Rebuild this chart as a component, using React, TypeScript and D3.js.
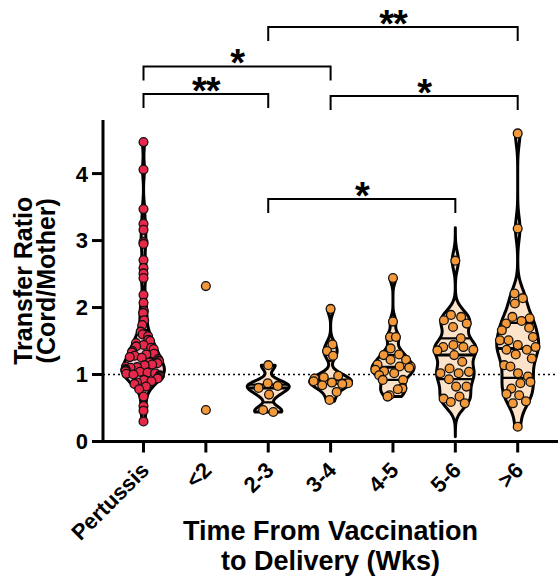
import React, { useEffect, useRef } from 'react';
import * as d3 from 'd3';

// group labels on the x axis
const categories = ['Pertussis', '<2', '2-3', '3-4', '4-5', '5-6', '>6'];

// transfer ratios, one array per group
const pertussis = [
  4.47, 4.06, 3.47, 3.25, 3.16, 2.98, 2.95, 2.71, 2.59, 2.51, 2.44, 2.19, 2.07, 1.95, 1.92,
  1.81, 1.74, 1.64, 1.60, 1.57, 1.52, 1.50, 1.47, 1.44, 1.42, 1.40, 1.38, 1.35, 1.33, 1.31,
  1.30, 1.28, 1.26, 1.25, 1.23, 1.21, 1.20, 1.18, 1.17, 1.15, 1.14, 1.12, 1.11, 1.10, 1.08,
  1.07, 1.06, 1.05, 1.04, 1.03, 1.02, 1.01, 1.00, 0.99, 0.98, 0.97, 0.95, 0.94, 0.92, 0.90,
  0.88, 0.86, 0.82, 0.78, 0.67, 0.53, 0.46, 0.30
];
const wkLt2 = [2.32, 0.47];
const wk23 = [1.14, 0.87, 0.83, 0.80, 0.70, 0.47, 0.44];
const wk34 = [1.98, 1.45, 1.35, 1.28, 0.98, 0.96, 0.94, 0.90, 0.88, 0.87, 0.86, 0.84, 0.74, 0.62];
const wk45 = [
  2.44, 1.79, 1.56, 1.56, 1.39, 1.30, 1.29, 1.22, 1.22, 1.15, 1.12, 1.12, 1.10, 1.07, 1.05,
  1.02, 0.99, 0.92, 0.92, 0.80, 0.79, 0.78, 0.69, 0.67
];
const wk56 = [
  2.70, 1.89, 1.86, 1.81, 1.76, 1.71, 1.54, 1.44, 1.41, 1.41, 1.37, 1.36, 1.29, 1.19, 1.09,
  1.04, 1.02, 1.02, 0.93, 0.82, 0.82, 0.67, 0.64, 0.59, 0.57
];
const wkGt6 = [
  4.60, 3.18, 2.21, 2.14, 2.06, 1.86, 1.84, 1.80, 1.76, 1.70, 1.66, 1.56, 1.51, 1.51, 1.44,
  1.41, 1.37, 1.37, 1.30, 1.24, 1.14, 1.12, 1.02, 0.97, 0.89, 0.87, 0.79, 0.71, 0.69, 0.60,
  0.57, 0.22
];
const groupValues = [pertussis, wkLt2, wk23, wk34, wk45, wk56, wkGt6];

// value range each violin covers (null = too few points for a violin)
const violinExtents: ([number, number] | null)[] = [
  [0.30, 4.47], null, [0.44, 1.14], [0.60, 1.98], [0.67, 2.44], [0.07, 3.19], [0.22, 4.60]
];

const yTicks = [0, 1, 2, 3, 4];
const yMax = 4.8;
const refLine = 1;

// significance brackets, level in data units
const comparisons = [
  { from: '2-3', to: '>6', level: 6.19, label: '**' },
  { from: 'Pertussis', to: '3-4', level: 5.6, label: '*' },
  { from: 'Pertussis', to: '2-3', level: 5.19, label: '**' },
  { from: '3-4', to: '>6', level: 5.16, label: '*' },
  { from: '2-3', to: '5-6', level: 3.62, label: '*' }
];

const WIDTH = 560;
const HEIGHT = 586;
const FONT = '"Liberation Sans", Arial, Helvetica, sans-serif';

function kde(values: number[], bw: number, v: number) {
  let s = 0;
  for (const x of values) {
    const u = (v - x) / bw;
    s += Math.exp(-0.5 * u * u);
  }
  return s / (values.length * bw * Math.sqrt(2 * Math.PI));
}

const App: React.FC = () => {
  const svgRef = useRef<SVGSVGElement>(null);

  useEffect(() => {
    if (!svgRef.current) return;
    const svg = d3.select(svgRef.current);
    svg.selectAll('*').remove();

    const axisLeftX = 103;
    const axisRightX = 558;

    const x = d3.scalePoint<string>().domain(categories).range([143.5, 517.7]);
    const y = d3.scaleLinear().domain([0, yMax]).range([441.5, 120]);

    const g = svg.append('g');

    // dotted reference line at ratio = 1
    g.append('line')
      .attr('x1', axisLeftX)
      .attr('x2', axisRightX)
      .attr('y1', y(refLine))
      .attr('y2', y(refLine))
      .attr('stroke', '#000')
      .attr('stroke-width', 1.6)
      .attr('stroke-dasharray', '2,3');

    const maxHalf = 21;

    categories.forEach((cat, i) => {
      const vals = groupValues[i];
      const cx = x(cat) as number;
      const isRed = i === 0;
      const dotFill = isRed ? '#E8284B' : '#F4993A';
      const violinFill = isRed ? '#F6C4CE' : '#FCE3CA';
      const ext = violinExtents[i];

      let halfWidth = (_v: number) => 0;

      if (ext) {
        const sorted = [...vals].sort(d3.ascending);
        const sd = d3.deviation(sorted) || 0.2;
        const iqr = (d3.quantile(sorted, 0.75)! - d3.quantile(sorted, 0.25)!) / 1.34;
        const bw = 0.62 * 0.9 * Math.min(sd, iqr || sd) * Math.pow(sorted.length, -0.2);
        const steps = d3.range(0, 121).map(k => ext[0] + (ext[1] - ext[0]) * k / 120);
        const dens = steps.map(v => kde(sorted, bw, v));
        const dMax = d3.max(dens) as number;
        const w = d3.scaleLinear().domain([0, dMax]).range([0, maxHalf]);
        halfWidth = (v: number) => {
          if (v < ext[0] || v > ext[1]) return 0;
          return w(kde(sorted, bw, v));
        };

        const area = d3.area<number>()
          .y(d => y(d))
          .x0(d => cx - halfWidth(d))
          .x1(d => cx + halfWidth(d))
          .curve(d3.curveBasis);

        g.append('path')
          .datum(steps)
          .attr('d', area)
          .attr('fill', violinFill)
          .attr('stroke', '#000')
          .attr('stroke-width', 3)
          .attr('stroke-linejoin', 'round');

        // median and quartiles
        [0.25, 0.5, 0.75].forEach(q => {
          const v = d3.quantile(sorted, q) as number;
          const hw = halfWidth(v);
          g.append('line')
            .attr('x1', cx - hw)
            .attr('x2', cx + hw)
            .attr('y1', y(v))
            .attr('y2', y(v))
            .attr('stroke', '#000')
            .attr('stroke-width', q === 0.5 ? 3 : 2.2);
        });
      }

      // spread the dots sideways inside the violin
      const nodes = vals.map(v => ({ v, x: cx, y: y(v) }));
      const sim = d3.forceSimulation(nodes as any)
        .force('x', d3.forceX(cx).strength(0.015))
        .force('y', d3.forceY((d: any) => y(d.v)).strength(1))
        .force('collide', d3.forceCollide(isRed ? 3.8 : 5.2))
        .stop();
      sim.tick(300);
      nodes.forEach(n => {
        const lim = ext ? Math.max(halfWidth(n.v) - 3, 0) : 0;
        n.x = Math.max(cx - lim, Math.min(cx + lim, n.x));
        n.y = y(n.v);
      });

      g.append('g')
        .selectAll('circle')
        .data(nodes)
        .enter()
        .append('circle')
        .attr('cx', d => d.x)
        .attr('cy', d => d.y)
        .attr('r', 4.4)
        .attr('fill', dotFill)
        .attr('stroke', '#111')
        .attr('stroke-width', 1.3);
    });

    // y axis
    const yAxisG = g.append('g').attr('font-family', FONT);
    yAxisG.append('line')
      .attr('x1', axisLeftX)
      .attr('x2', axisLeftX)
      .attr('y1', y(yMax))
      .attr('y2', y(0) + 1.5)
      .attr('stroke', '#000')
      .attr('stroke-width', 3);
    yTicks.forEach(t => {
      yAxisG.append('line')
        .attr('x1', axisLeftX - 11)
        .attr('x2', axisLeftX)
        .attr('y1', y(t))
        .attr('y2', y(t))
        .attr('stroke', '#000')
        .attr('stroke-width', 3);
      yAxisG.append('text')
        .attr('x', axisLeftX - 15)
        .attr('y', y(t))
        .attr('dy', '0.36em')
        .attr('text-anchor', 'end')
        .attr('font-size', 22)
        .attr('font-weight', 'bold')
        .text(t);
    });

    // x axis
    const xAxisG = g.append('g').attr('font-family', FONT);
    xAxisG.append('line')
      .attr('x1', axisLeftX - 1.5)
      .attr('x2', axisRightX)
      .attr('y1', y(0))
      .attr('y2', y(0))
      .attr('stroke', '#000')
      .attr('stroke-width', 3);
    categories.forEach(cat => {
      const cx = x(cat) as number;
      xAxisG.append('line')
        .attr('x1', cx)
        .attr('x2', cx)
        .attr('y1', y(0))
        .attr('y2', y(0) + 11)
        .attr('stroke', '#000')
        .attr('stroke-width', 3);
      xAxisG.append('text')
        .attr('transform', `translate(${cx + 7},${y(0) + 30}) rotate(-45)`)
        .attr('text-anchor', 'end')
        .attr('font-size', 22)
        .attr('font-weight', 'bold')
        .text(cat);
    });

    // axis titles
    const yTitle = g.append('text')
      .attr('transform', `translate(32,${(y(0) + y(yMax)) / 2}) rotate(-90)`)
      .attr('text-anchor', 'middle')
      .attr('font-family', FONT)
      .attr('font-size', 25)
      .attr('font-weight', 'bold');
    yTitle.append('tspan').attr('x', 0).attr('y', 0).text('Transfer Ratio');
    yTitle.append('tspan').attr('x', 0).attr('y', 23).text('(Cord/Mother)');

    const xTitle = g.append('text')
      .attr('text-anchor', 'middle')
      .attr('font-family', FONT)
      .attr('font-size', 27)
      .attr('font-weight', 'bold');
    xTitle.append('tspan').attr('x', (axisLeftX + axisRightX) / 2).attr('y', 540).text('Time From Vaccination');
    xTitle.append('tspan').attr('x', (axisLeftX + axisRightX) / 2).attr('y', 570).text('to Delivery (Wks)');

    // significance brackets
    comparisons.forEach(c => {
      const x1 = x(c.from) as number;
      const x2 = x(c.to) as number;
      const yy = y(c.level);
      g.append('path')
        .attr('d', `M${x1},${yy + 14}V${yy}H${x2}V${yy + 14}`)
        .attr('fill', 'none')
        .attr('stroke', '#000')
        .attr('stroke-width', 2);
      g.append('text')
        .attr('x', (x1 + x2) / 2)
        .attr('y', yy + 10)
        .attr('text-anchor', 'middle')
        .attr('font-family', FONT)
        .attr('font-size', 38)
        .attr('font-weight', 'bold')
        .attr('letter-spacing', -1)
        .text(c.label);
    });
  }, []);

  return (
    <svg
      ref={svgRef}
      width={WIDTH}
      height={HEIGHT}
      viewBox={`0 0 ${WIDTH} ${HEIGHT}`}
      style={{ position: 'absolute', left: 0, top: 0, background: '#fff', display: 'block' }}
    />
  );
};

export default App;
